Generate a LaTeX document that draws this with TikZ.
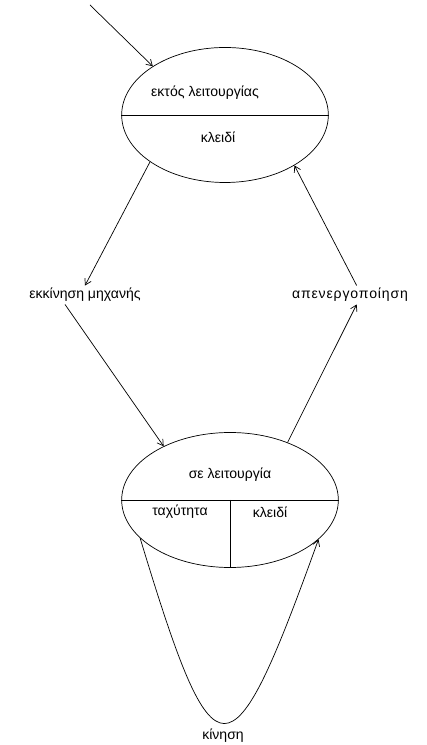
\documentclass[tikz,border=0pt]{standalone}
\usepackage{fontspec}
\setsansfont{Liberation Sans}
\usetikzlibrary{arrows.meta, positioning, shapes.geometric}

\begin{document}
\begin{tikzpicture}[
  line width=0.6pt,
  state/.style={draw, ellipse, minimum width=#1, minimum height=4.05cm, inner sep=0pt},
  txt/.style={font=\sffamily\fontsize{12}{14}\selectfont, inner sep=2pt},
  arr/.style={-{Straight Barb[length=5pt, width=6pt]}}
]
  \useasboundingbox (0,0) rectangle (12.78,22.35);

  % Off state
  \coordinate (init) at (2.7, 22.2);
  \node[state=6.2cm] (off) at (6.75, 18.9) {};
  \draw (off.west) -- (off.east);
  \node[txt] (offname) at (6.15, 19.56) {εκτός λειτουργίας};
  \node[txt] (offkey) at (6.54, 18.24) {κλειδί};
  \draw[arr] (init) -- (off.146);

  % Events
  \node[txt] (start) at (2.55, 13.5) {εκκίνηση μηχανής};
  \node[txt] (stop) at (10.5, 13.5) {\addfontfeature{LetterSpace=6}απενεργοποίηση};

  % On state
  \node[state=6.5cm] (on) at (6.9, 7.35) {};
  \draw (on.west) -- (on.east);
  \draw (on.center) -- (on.south);
  \node[txt] (onname) at (6.9, 8.1) {σε λειτουργία};
  \node[txt] (onspeed) at (5.4, 6.99) {ταχύτητα};
  \node[txt] (onkey) at (8.1, 6.99) {κλειδί};

  % Transitions
  \draw[arr] (off.212) -- (start.north);
  \draw[arr] ([xshift=-0.6cm]start.south) -- (on.141);
  \draw[arr] (on.45) -- ([xshift=0.2cm]stop.south);
  \draw[arr] ([xshift=0.2cm]stop.north) -- (off.324);

  % Self loop
  \node[txt] (move) at (6.69, 0.28) {κίνηση};
  \draw[arr] (on.203) .. controls (6.45,-1.2) and (6.9,-1.2) .. (on.336);
\end{tikzpicture}
\end{document}
